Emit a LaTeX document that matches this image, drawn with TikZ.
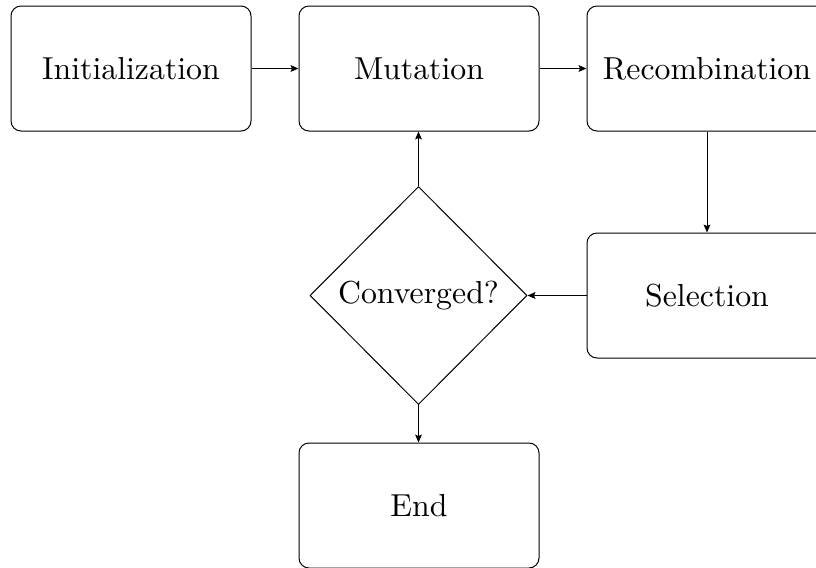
\documentclass[tikz,border=0pt]{standalone}
\usetikzlibrary{shapes.geometric,arrows.meta}
\newcommand{\bigtxt}[1]{\scalebox{1.59}{\fontsize{10}{12}\selectfont #1}}
\begin{document}
\begin{tikzpicture}[x=0.5pt,y=-0.5pt,
  box/.style={draw,rounded corners=5pt,minimum width=120pt,minimum height=62.5pt,inner sep=0pt,line width=0.5pt},
  dia/.style={draw,shape=diamond,minimum width=108.5pt,minimum height=109pt,inner sep=0pt,line width=0.5pt},
  arr/.style={-{Stealth[length=4pt,width=3.4pt,inset=0.8pt]},line width=0.5pt}]
\useasboundingbox (0,0) rectangle (816,568);
\node[box] (init) at (131,68.5) {\bigtxt{Initialization}};
\node[box] (mut) at (419,68.5) {\bigtxt{Mutation}};
\node[box] (rec) at (707,68.5) {\bigtxt{Recombination}};
\node[box] (sel) at (707,295.5) {\bigtxt{Selection}};
\node[dia] (conv) at (418.5,295.5) {\bigtxt{Converged?}};
\node[box] (end) at (419,505.5) {\bigtxt{End}};
\draw[arr] (init) -- (mut);
\draw[arr] (mut) -- (rec);
\draw[arr] (rec) -- (sel);
\draw[arr] (sel) -- (conv);
\draw[arr] (conv.north) -- (conv.north |- mut.south);
\draw[arr] (conv.south) -- (conv.south |- end.north);
\end{tikzpicture}
\end{document}
